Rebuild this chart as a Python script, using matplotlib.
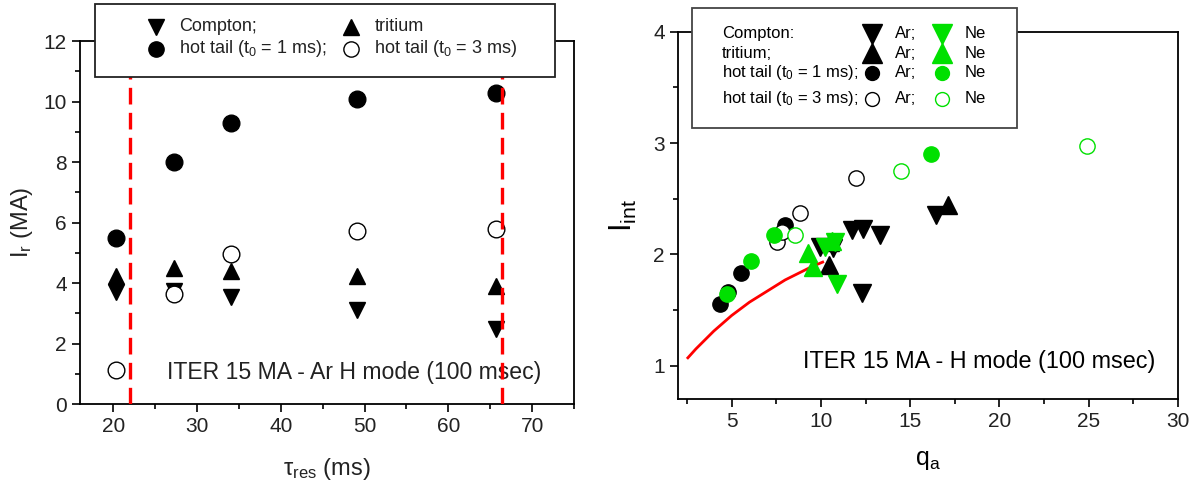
import matplotlib.pyplot as plt
from matplotlib.patches import Rectangle

plt.rcParams['font.family'] = ['Liberation Sans', 'DejaVu Sans']
plt.rcParams['mathtext.fontset'] = 'custom'
plt.rcParams['mathtext.rm'] = 'Liberation Sans'
plt.rcParams['mathtext.it'] = 'Liberation Sans'
plt.rcParams['mathtext.default'] = 'regular'

# left panel: runaway current vs resistive decay time
tau = [20.3, 27.2, 34.0, 49.1, 65.7]
hot1 = [5.49, 8.0, 9.3, 10.09, 10.29]
hot3 = [1.11, 3.65, 4.97, 5.71, 5.77]
tritium = [4.22, 4.5, 4.39, 4.22, 3.89]
compton = [3.69, 3.75, 3.53, 3.12, 2.48]
tau_limits = [22.0, 66.4]

# right panel: I_int vs q_a
compton_ar_q = [9.95, 10.7, 11.73, 12.36, 13.33, 12.3, 16.45]
compton_ar_i = [2.07, 2.06, 2.22, 2.23, 2.17, 1.65, 2.355]
tritium_ar_q = [10.5, 10.48, 17.14]
tritium_ar_i = [2.11, 1.905, 2.44]
compton_ne_q = [10.23, 10.8, 10.89]
compton_ne_i = [2.07, 2.115, 1.73]
tritium_ne_q = [9.3, 9.58, 10.6]
tritium_ne_i = [2.01, 1.89, 2.12]
hot1_ar_q = [4.35, 4.8, 5.53, 7.99]
hot1_ar_i = [1.55, 1.66, 1.83, 2.265]
hot3_ar_q = [7.53, 7.81, 8.83, 11.97]
hot3_ar_i = [2.115, 2.2, 2.37, 2.69]
hot1_ne_q = [4.73, 6.07, 7.38, 16.17]
hot1_ne_i = [1.645, 1.94, 2.17, 2.90]
hot3_ne_q = [8.55, 14.48, 24.9]
hot3_ne_i = [2.17, 2.75, 2.97]
curve_q = [2.55, 3.0, 3.5, 4.0, 4.5, 5.0, 5.5, 6.0, 6.5, 7.0, 7.5, 8.0, 8.5, 9.0, 9.5, 10.1]
curve_i = [1.07, 1.15, 1.23, 1.31, 1.38, 1.45, 1.51, 1.57, 1.62, 1.67, 1.72, 1.77,
           1.81, 1.85, 1.89, 1.93]

GREEN = '#00e000'

fig = plt.figure(figsize=(11.95, 4.82), dpi=100)
ax1 = fig.add_axes([0.0669, 0.1618, 0.4134, 0.7531])
ax2 = fig.add_axes([0.5674, 0.1722, 0.4184, 0.762])

for ax in (ax1, ax2):
    ax.tick_params(which='both', direction='out', top=False, right=False, labelsize=15,
                   labelcolor='#222222')
    ax.tick_params(which='major', length=6, width=1.2)
    ax.tick_params(which='minor', length=3.5, width=1.2)
    for s in ax.spines.values():
        s.set_linewidth(1.3)

# ---- left panel
ax1.plot(tau, compton, 'v', color='k', ms=12, zorder=3)
ax1.plot(tau, tritium, '^', color='k', ms=12, zorder=3)
ax1.plot(tau, hot1, 'o', color='k', ms=12, zorder=3)
ax1.plot(tau, hot3, 'o', mfc='white', mec='k', mew=1.0, ms=12, zorder=4)
for t in tau_limits:
    ax1.axvline(t, color='red', ls=(0, (5, 2.5)), lw=2.4, zorder=5)
ax1.text(26.4, 1.05, 'ITER 15 MA - Ar H mode (100 msec)', fontsize=16.6, va='center',
         color='#222222')
ax1.set_xlim(16, 75)
ax1.set_ylim(0, 12)
ax1.set_xticks([20, 30, 40, 50, 60, 70])
ax1.set_xticks([25, 35, 45, 55, 65, 75], minor=True)
ax1.set_yticks([0, 2, 4, 6, 8, 10, 12])
ax1.set_yticks([1, 3, 5, 7, 9, 11], minor=True)
ax1.set_xlabel(r'$\tau_{res}$ (ms)', fontsize=17, labelpad=14, color='#222222')
ax1.set_ylabel('I$_r$ (MA)', fontsize=17, labelpad=6, color='#222222')

ax1.add_patch(Rectangle((0.030, 0.902), 0.931, 0.200, transform=ax1.transAxes,
                        fc='white', ec='#222222', lw=1.3, clip_on=False, zorder=10))
leg1 = [(0.153, 1.039, 'v', 'k', 'Compton;'), (0.549, 1.039, '^', 'k', 'tritium'),
        (0.153, 0.979, 'o', 'k', 'hot tail (t$_0$ = 1 ms);'),
        (0.549, 0.979, 'o', 'w', 'hot tail (t$_0$ = 3 ms)')]
for x, y, m, fc, lab in leg1:
    ax1.plot([x], [y], m, mfc=fc, mec='k', mew=1.0, ms=11, transform=ax1.transAxes,
             clip_on=False, zorder=11)
    ax1.text(x + 0.047, y, lab, fontsize=13, va='center', transform=ax1.transAxes,
             zorder=11, color='#222222')

# ---- right panel
ax2.plot(curve_q, curve_i, color='red', lw=2.0, zorder=2)
ax2.plot(hot1_ar_q, hot1_ar_i, 'o', color='k', ms=11, zorder=3)
ax2.plot(hot3_ar_q, hot3_ar_i, 'o', mfc='white', mec='k', mew=1.0, ms=11, zorder=3)
ax2.plot(compton_ar_q, compton_ar_i, 'v', color='k', ms=13, zorder=3)
ax2.plot(tritium_ar_q, tritium_ar_i, '^', color='k', ms=13, zorder=3)
ax2.plot(hot1_ne_q, hot1_ne_i, 'o', color=GREEN, ms=11, zorder=4)
ax2.plot(hot3_ne_q, hot3_ne_i, 'o', mfc='white', mec=GREEN, mew=1.0, ms=11, zorder=4)
ax2.plot(compton_ne_q, compton_ne_i, 'v', color=GREEN, ms=13, zorder=4)
ax2.plot(tritium_ne_q, tritium_ne_i, '^', color=GREEN, ms=13, zorder=4)
ax2.text(9.0, 1.04, 'ITER 15 MA - H mode (100 msec)', fontsize=16.8, va='center')
ax2.set_xlim(2, 30)
ax2.set_ylim(0.7, 4)
ax2.set_xticks([5, 10, 15, 20, 25, 30])
ax2.set_xticks([2.5, 7.5, 12.5, 17.5, 22.5, 27.5], minor=True)
ax2.set_yticks([1, 2, 3, 4])
ax2.set_yticks([1.5, 2.5, 3.5], minor=True)
ax2.set_xlabel('q$_a$', fontsize=18, labelpad=12)
ax2.set_ylabel('I$_{int}$', fontsize=22, labelpad=10)

ax2.add_patch(Rectangle((0.028, 0.739), 0.650, 0.325, transform=ax2.transAxes,
                        fc='white', ec='#444444', lw=1.3, clip_on=False, zorder=10))
rows = [0.995, 0.941, 0.888, 0.818]
names = ['Compton:', 'tritium;', 'hot tail (t$_0$ = 1 ms);', 'hot tail (t$_0$ = 3 ms);']
marks = ['v', '^', 'o', 'o']
filled = [True, True, True, False]
for y, name, m, f in zip(rows, names, marks, filled):
    ax2.text(0.088, y, name, fontsize=12, va='center', transform=ax2.transAxes, zorder=11)
    for x, c, el in [(0.388, 'k', 'Ar;'), (0.528, GREEN, 'Ne')]:
        ms = 14 if m != 'o' else 10
        ax2.plot([x], [y], m, mfc=c if f else 'white', mec=c, mew=1.0, ms=ms,
                 transform=ax2.transAxes, clip_on=False, zorder=11)
        ax2.text(x + 0.046, y, el, fontsize=12, va='center', transform=ax2.transAxes,
                 zorder=11)

fig.savefig('out.png', dpi=100)
